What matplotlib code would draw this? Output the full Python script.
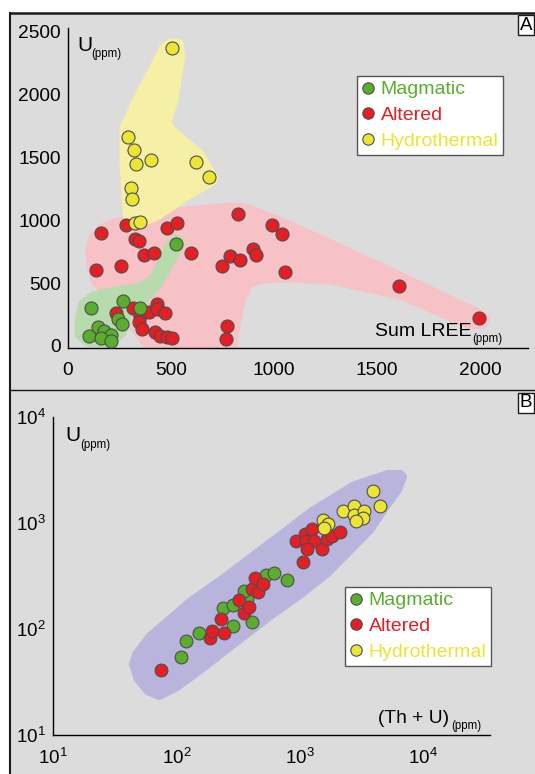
import matplotlib
matplotlib.use("Agg")
import matplotlib.pyplot as plt
from matplotlib.patches import Polygon, Rectangle
from matplotlib.lines import Line2D

plt.rcParams['font.family'] = ['Liberation Sans', 'DejaVu Sans']
plt.rcParams['mathtext.fontset'] = 'custom'
plt.rcParams['mathtext.rm'] = 'Liberation Sans'
plt.rcParams['mathtext.it'] = 'Liberation Sans:italic'

# --- panel A: U vs Sum LREE (ppm) ---
a_mag_lree = [524, 112, 267, 350, 243, 262, 146, 175, 209, 102, 160, 209]
a_mag_u = [811, 302, 358, 302, 215, 175, 151, 119, 87, 79, 64, 40]

a_alt_lree = [282, 160, 325, 345, 369, 417, 257, 136, 481, 529, 597, 825, 748,
              786, 835, 898, 913, 990, 1039, 1053, 1607, 1995, 233, 316, 350,
              345, 359, 393, 432, 432, 471, 422, 447, 481, 505, 772, 767]
a_alt_u = [962, 898, 850, 835, 723, 739, 636, 604, 938, 978, 739, 1049, 636,
           715, 684, 771, 723, 962, 890, 588, 477, 223, 262, 302, 238,
           191, 135, 270, 334, 294, 262, 111, 79, 72, 64, 159, 56]

a_hyd_lree = [505, 291, 320, 403, 330, 621, 684, 306, 311, 325, 350]
a_hyd_u = [2369, 1661, 1558, 1479, 1447, 1463, 1343, 1256, 1169, 978, 986]

a_ticks = [0, 500, 1000, 1500, 2000, 2500]

# outlines of the sample fields (Sum LREE, U)
field_alt = [(383, 0), (291, 207), (252, 366), (180, 429), (131, 509), (107, 620),
             (102, 763), (117, 859), (155, 938), (228, 986), (398, 1041),
             (568, 1081), (786, 1113), (859, 1105), (1005, 1017), (1223, 859),
             (1612, 564), (1990, 270), (2034, 223), (2019, 167), (1951, 159),
             (1612, 397), (1272, 517), (1078, 533), (947, 525), (883, 493),
             (845, 366), (820, 167), (806, 0)]
field_mag = [(49, 207), (68, 342), (121, 405), (238, 445), (364, 485), (413, 541),
             (447, 660), (481, 787), (519, 859), (549, 843), (534, 763),
             (495, 644), (447, 501), (383, 382), (291, 238), (267, 103),
             (204, 8), (92, 24), (49, 87)]
field_hyd = [(461, 2377), (495, 2417), (544, 2409), (553, 2297), (534, 2114),
             (519, 1956), (485, 1773), (510, 1717), (641, 1534), (714, 1343),
             (704, 1304), (578, 1184), (432, 1025), (364, 978), (291, 938),
             (277, 1161), (267, 1479), (267, 1733), (335, 1979), (413, 2218)]

# --- panel B: U vs (Th + U) (ppm), log-log ---
b_mag_thu = [109, 120, 152, 286, 406, 238, 286, 371, 351, 527, 622, 793]
b_mag_u = [54, 77, 92, 107, 117, 158, 169, 193, 230, 320, 341, 293]

b_alt_thu = [75, 187, 194, 242, 229, 351, 385, 319, 406, 454, 430, 498, 1064,
             935, 1105, 1259, 1125, 1305, 1149, 1515, 1661, 1822, 2113]
b_alt_u = [41, 82, 96, 92, 125, 142, 162, 189, 240, 225, 306, 268, 426,
           674, 785, 877, 674, 674, 565, 565, 705, 752, 821]

b_hyd_thu = [1542, 1691, 1571, 2234, 2740, 2740, 3298, 3237, 2843, 3890, 4433]
b_hyd_u = [1069, 978, 896, 1300, 1452, 1191, 1300, 1117, 1045, 2018, 1452]

b_ticks = [10, 100, 1000, 10000]
b_ticklabels = [r'$\mathregular{10^{1}}$', r'$\mathregular{10^{2}}$',
                r'$\mathregular{10^{3}}$', r'$\mathregular{10^{4}}$']

# envelope around all samples, in log10 units (Th + U, U)
field_all_log = [(3.840, 3.438), (3.800, 3.314), (3.695, 3.143), (3.574, 2.933),
                 (3.373, 2.695), (3.228, 2.524), (3.011, 2.324), (2.770, 2.124),
                 (2.448, 1.838), (2.207, 1.619), (2.006, 1.448), (1.861, 1.362),
                 (1.764, 1.410), (1.684, 1.524), (1.644, 1.667), (1.668, 1.762),
                 (1.780, 1.933), (2.102, 2.257), (2.368, 2.476), (2.770, 2.829),
                 (3.092, 3.114), (3.438, 3.362), (3.711, 3.467), (3.816, 3.467)]

labels = ['Magmatic', 'Altered', 'Hydrothermal']
dot_colors = ['#5aad2d', '#e31e24', '#ede535']
text_colors = ['#5aad2d', '#e31e24', '#ece332']
EDGE = '#4d4d4d'
BG = '#dcdcdc'

W, H = 535, 774
fig = plt.figure(figsize=(W / 100, H / 100), dpi=100)


def fx(x):
    return x / W


def fy(y):
    return 1 - y / H


# grey panel backgrounds and frame lines
fig.add_artist(Rectangle((fx(10), 0), 1, fy(13), transform=fig.transFigure,
                         facecolor=BG, edgecolor='none', zorder=-5))
fig.add_artist(Line2D([fx(10), 1], [fy(13), fy(13)], color='#1a1a1a', lw=1.8))
fig.add_artist(Line2D([fx(10), fx(10)], [0, fy(13)], color='#1a1a1a', lw=1.5))
fig.add_artist(Line2D([fx(10), 1], [fy(390), fy(390)], color='#1a1a1a', lw=1.0))


def style_axes(ax):
    ax.set_facecolor('none')
    for side in ('top', 'right'):
        ax.spines[side].set_visible(False)
    for side in ('left', 'bottom'):
        ax.spines[side].set_linewidth(1.0)
        ax.spines[side].set_color('black')


def add_field(ax, pts, color):
    ax.add_patch(Polygon(pts, closed=True, facecolor=color, edgecolor=color,
                         lw=5, joinstyle='round', zorder=1))


def add_legend(ax, x, y):
    handles = [Line2D([], [], ls='none', marker='o', ms=8.2, mfc=c, mec=EDGE,
                      mew=0.8) for c in dot_colors]
    leg = ax.legend(handles, labels, loc='upper left',
                    bbox_to_anchor=(fx(x), fy(y)), bbox_transform=fig.transFigure,
                    fontsize=14, frameon=True, fancybox=False, framealpha=1,
                    borderpad=0.25, handlelength=0.6, handletextpad=0.36,
                    labelspacing=0.42, borderaxespad=0)
    leg.get_frame().set_edgecolor('#555555')
    leg.get_frame().set_facecolor('white')
    leg.get_frame().set_linewidth(1.0)
    for t, c in zip(leg.get_texts(), text_colors):
        t.set_color(c)


def sub_label(x, y, main, sub, xs, ys, size=15):
    fig.text(fx(x), fy(y), main, fontsize=size, va='baseline', ha='left')
    fig.text(fx(xs), fy(ys), sub, fontsize=8.3, va='baseline', ha='left')


# ---------- panel A ----------
axa = fig.add_axes([fx(68), fy(348), fx(528) - fx(68), fy(28) - fy(348)])
style_axes(axa)
add_field(axa, field_alt, '#f6c2c5')
add_field(axa, field_mag, '#b8dbae')
add_field(axa, field_hyd, '#f6f0a6')
axa.scatter(a_alt_lree, a_alt_u, s=88, c=dot_colors[1], edgecolors=EDGE,
            linewidths=0.8, zorder=3)
axa.scatter(a_mag_lree, a_mag_u, s=88, c=dot_colors[0], edgecolors=EDGE,
            linewidths=0.8, zorder=4)
axa.scatter(a_hyd_lree, a_hyd_u, s=88, c=dot_colors[2], edgecolors=EDGE,
            linewidths=0.8, zorder=5)
axa.set_xlim(0, 2233)
axa.set_ylim(-16, 2528)
axa.set_xticks(a_ticks[:-1])
axa.set_yticks(a_ticks)
axa.tick_params(axis='both', length=0, labelsize=13.8)
axa.tick_params(axis='x', pad=10)
axa.tick_params(axis='y', pad=5)
add_legend(axa, 357, 76)

sub_label(77, 51, 'U', '(ppm)', 91, 57)
sub_label(375, 336, 'Sum LREE', '(ppm)', 472, 342, size=14)
fig.text(fx(519.5), fy(29.5), 'A', fontsize=13.5, ha='left', va='baseline',
         bbox=dict(boxstyle='square,pad=0.08', fc='white', ec='#1a1a1a', lw=1))

# ---------- panel B ----------
axb = fig.add_axes([fx(53), fy(735), fx(490) - fx(53), fy(417) - fy(735)])
style_axes(axb)
axb.set_xscale('log')
axb.set_yscale('log')
axb.add_patch(Polygon([(10 ** a, 10 ** b) for a, b in field_all_log], closed=True,
                      facecolor='#b9b4dc', edgecolor='#b9b4dc', lw=5,
                      joinstyle='round', zorder=1))
axb.scatter(b_mag_thu, b_mag_u, s=85, c=dot_colors[0], edgecolors=EDGE,
            linewidths=0.8, zorder=3)
axb.scatter(b_alt_thu, b_alt_u, s=85, c=dot_colors[1], edgecolors=EDGE,
            linewidths=0.8, zorder=4)
axb.scatter(b_hyd_thu, b_hyd_u, s=85, c=dot_colors[2], edgecolors=EDGE,
            linewidths=0.8, zorder=5)
axb.set_xlim(10, 10 ** 4.54)
axb.set_ylim(10, 10 ** 4)
axb.set_xticks(b_ticks)
axb.set_xticklabels(b_ticklabels)
axb.set_yticks(b_ticks)
axb.set_yticklabels(b_ticklabels)
axb.minorticks_off()
axb.tick_params(axis='both', length=0, labelsize=13.5)
axb.tick_params(axis='x', pad=9)
axb.tick_params(axis='y', pad=5)
add_legend(axb, 345, 587)

sub_label(65, 441, 'U', '(ppm)', 80, 448)
sub_label(378, 723, '(Th + U)', '(ppm)', 451, 729, size=13.8)
fig.text(fx(519.5), fy(407), 'B', fontsize=13.5, ha='left', va='baseline',
         bbox=dict(boxstyle='square,pad=0.08', fc='white', ec='#1a1a1a', lw=1))

fig.savefig('out.png', dpi=100, facecolor='white')
